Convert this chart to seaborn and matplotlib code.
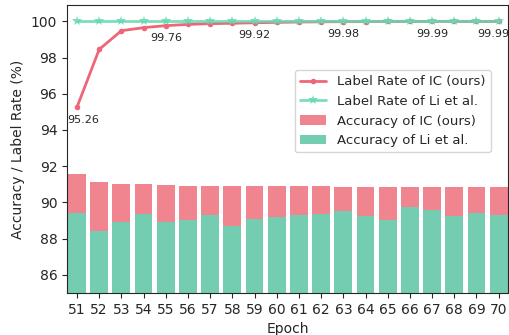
import numpy as np
import pandas as pd
import matplotlib
matplotlib.use("Agg")
import matplotlib.pyplot as plt
import seaborn as sns

# data
epochs = list(range(51, 71))
acc_ic = [91.57, 91.13, 91.02, 91.02, 90.96, 90.90, 90.90, 90.90, 90.90, 90.90,
          90.90, 90.90, 90.85, 90.85, 90.85, 90.85, 90.85, 90.85, 90.85, 90.85]
acc_li = [89.42, 88.42, 88.94, 89.38, 88.94, 89.05, 89.31, 88.72, 89.08, 89.19,
          89.31, 89.38, 89.53, 89.27, 89.05, 89.75, 89.60, 89.27, 89.42, 89.31]
rate_ic = [95.26, 98.45, 99.48, 99.65, 99.76, 99.83, 99.87, 99.89, 99.92, 99.94,
           99.96, 99.97, 99.98, 99.98, 99.99, 99.99, 99.99, 99.99, 99.99, 99.99]
rate_li = [100.0] * 20
shown = [51, 55, 59, 63, 67, 70]

df = pd.DataFrame({"Epoch": [str(e) for e in epochs], "acc_ic": acc_ic,
                   "acc_li": acc_li, "rate_ic": rate_ic, "rate_li": rate_li})
df["pos"] = np.arange(len(df))

sns.set_style("ticks")
fig, ax = plt.subplots(figsize=(5.09, 3.35), dpi=100)
fig.subplots_adjust(left=67/509, right=508/509, top=1-5/335, bottom=1-293/335)

sns.barplot(data=df, x="Epoch", y="acc_ic", color="#f1858f", saturation=1,
            linewidth=0, label="Accuracy of IC (ours)", ax=ax)
sns.barplot(data=df, x="Epoch", y="acc_li", color="#75cdb1", saturation=1,
            linewidth=0, label="Accuracy of Li et al.", ax=ax)
sns.lineplot(data=df, x="pos", y="rate_ic", color="#ee6677", lw=2, marker="o",
             markersize=4, markeredgewidth=0, label="Label Rate of IC (ours)", ax=ax)
sns.lineplot(data=df, x="pos", y="rate_li", color="#66d9b0", lw=2, alpha=0.85,
             marker="*", markersize=7.5, markeredgewidth=0,
             label="Label Rate of Li et al.", ax=ax)

for e in shown:
    i = epochs.index(e)
    dx = {51: 4.5, 70: -4}.get(e, 0)
    ax.annotate(f"{rate_ic[i]:.2f}", (i, rate_ic[i]), xytext=(dx, -9),
                textcoords="offset points", ha="center", va="center", fontsize=8)

ax.set_ylim(85, 100.9)
ax.set_xlim(-0.45, 19.42)
ax.set_yticks([86, 88, 90, 92, 94, 96, 98, 100])
ax.set_xlabel("Epoch", fontsize=10)
ax.set_ylabel("Accuracy / Label Rate (%)", fontsize=10)
ax.tick_params(labelsize=10)

h, l = ax.get_legend_handles_labels()
order = [l.index("Label Rate of IC (ours)"), l.index("Label Rate of Li et al."),
         l.index("Accuracy of IC (ours)"), l.index("Accuracy of Li et al.")]
ax.legend([h[k] for k in order], [l[k] for k in order], loc="upper right",
          bbox_to_anchor=(0.961, 0.774), borderaxespad=0, fontsize=9.5)

fig.savefig("out.png", dpi=100)
